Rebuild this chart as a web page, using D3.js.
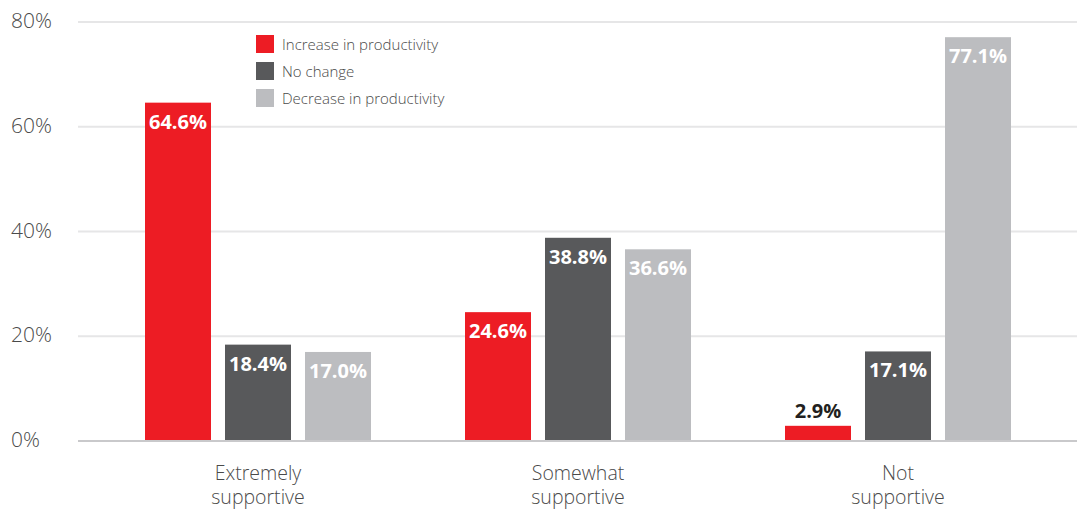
<!DOCTYPE html>
<html>
<head>
<meta charset="utf-8">
<script src="https://cdn.jsdelivr.net/npm/d3@7"></script>
<style>
  html, body { margin: 0; padding: 0; background: #fff; }
  svg { display: block; }
  text { font-family: "Open Sans", "Noto Sans", sans-serif; }
</style>
</head>
<body>
<svg id="chart" width="1077" height="509"></svg>
<script>
// Support level groups on the x axis (each label wraps to two lines)
const categories = [
  ["Extremely", "supportive"],
  ["Somewhat", "supportive"],
  ["Not", "supportive"]
];
const seriesNames = ["Increase in productivity", "No change", "Decrease in productivity"];
const seriesColors = ["#ed1c24", "#58595b", "#bcbdc0"];

// Share of respondents (%) per series, in category order
const increaseValues = [64.6, 24.6, 2.9];
const noChangeValues = [18.4, 38.8, 17.1];
const decreaseValues = [17.0, 36.6, 77.1];

const yTicks = [0, 20, 40, 60, 80];

const seriesValues = [increaseValues, noChangeValues, decreaseValues];

const svg = d3.select("#chart");
const plot = { left: 78, right: 1077, top: 22, bottom: 441 };

// One band per support level
const x0 = d3.scaleBand()
  .domain(d3.range(categories.length))
  .range([98, 1058])
  .paddingInner(0)
  .paddingOuter(0);

// Bars inside a band: 66px wide, 80px apart, centred in the band
const x1 = d3.scaleBand()
  .domain(d3.range(seriesNames.length))
  .range([47, 47 + 226])
  .paddingInner(14 / 80)
  .paddingOuter(0);

const y = d3.scaleLinear().domain([0, 80]).range([plot.bottom, plot.top]);

// Horizontal gridlines
svg.append("g")
  .selectAll("line")
  .data(yTicks.filter(t => t > 0))
  .join("line")
  .attr("x1", plot.left).attr("x2", plot.right)
  .attr("y1", d => y(d)).attr("y2", d => y(d))
  .attr("stroke", "#e6e6e7")
  .attr("stroke-width", 2);

// Tick labels
svg.append("g")
  .selectAll("text")
  .data(yTicks)
  .join("text")
  .attr("x", 11)
  .attr("y", d => y(d) + 6)
  .attr("fill", "#4a4a4a")
  .attr("font-size", 21)
  .attr("font-weight", 300)
  .text(d => d + "%");

// Bars
const groups = svg.append("g")
  .selectAll("g")
  .data(categories.map((c, i) => i))
  .join("g")
  .attr("transform", i => `translate(${x0(i)},0)`);

groups.each(function (ci) {
  const g = d3.select(this);
  const vals = seriesValues.map((s, si) => ({ si, v: s[ci] }));
  g.selectAll("rect")
    .data(vals)
    .join("rect")
    .attr("x", d => x1(d.si))
    .attr("width", x1.bandwidth())
    .attr("y", d => y(d.v))
    .attr("height", d => y(0) - y(d.v))
    .attr("fill", d => seriesColors[d.si]);

  // Value labels: inside the bar top, or above it when the bar is too short
  g.selectAll("text.val")
    .data(vals)
    .join("text")
    .attr("class", "val")
    .attr("x", d => x1(d.si) + x1.bandwidth() / 2)
    .attr("y", d => {
      const h = y(0) - y(d.v);
      return h > 30 ? y(d.v) + 26 : y(d.v) - 8;
    })
    .attr("text-anchor", "middle")
    .attr("font-size", 20)
    .attr("font-weight", 700)
    .attr("fill", d => (y(0) - y(d.v) > 30) ? "#ffffff" : "#231f20")
    .text(d => d.v.toFixed(1) + "%");
});

// Baseline
svg.append("line")
  .attr("x1", plot.left).attr("x2", plot.right)
  .attr("y1", y(0)).attr("y2", y(0))
  .attr("stroke", "#c9c9cb")
  .attr("stroke-width", 2);

// Category labels, one text element per line
const catLabels = svg.append("g");
categories.forEach((lines, i) => {
  lines.forEach((ln, k) => {
    catLabels.append("text")
      .attr("x", x0(i) + x0.bandwidth() / 2)
      .attr("y", 480 + k * 24)
      .attr("text-anchor", "middle")
      .attr("fill", "#4a4a4a")
      .attr("font-size", 19.5)
      .attr("font-weight", 300)
      .text(ln);
  });
});

// Legend
const legend = svg.append("g").attr("transform", "translate(256,35)");
const items = legend.selectAll("g")
  .data(seriesNames)
  .join("g")
  .attr("transform", (d, i) => `translate(0,${i * 27})`);
items.append("rect")
  .attr("width", 18).attr("height", 18)
  .attr("fill", (d, i) => seriesColors[i]);
items.append("text")
  .attr("x", 26).attr("y", 14.5)
  .attr("font-size", 15)
  .attr("font-weight", 300)
  .attr("fill", "#4a4a4a")
  .text(d => d);
</script>
</body>
</html>
